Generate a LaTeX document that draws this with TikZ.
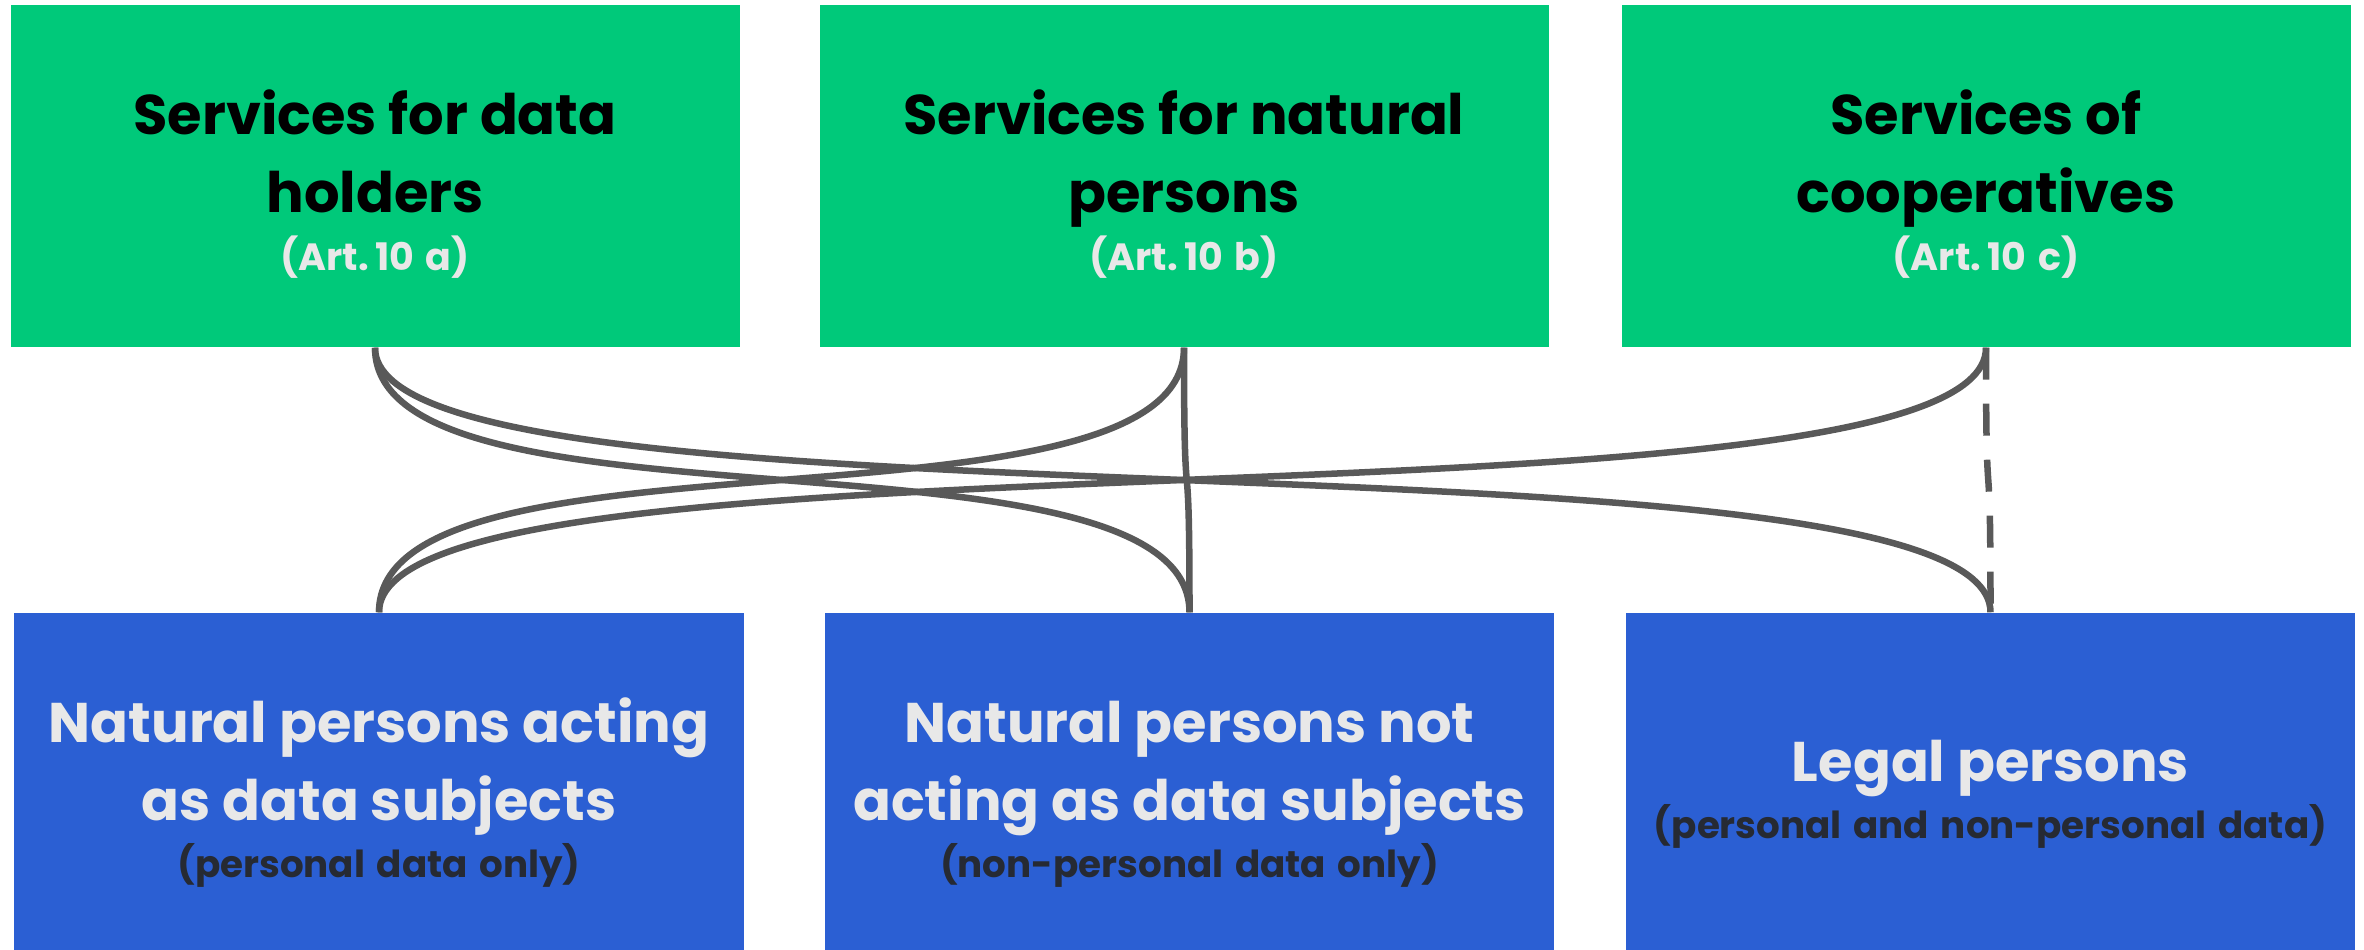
\documentclass[tikz,border=0pt]{standalone}
\usepackage{fontspec}
\setmainfont{Poppins}
\usetikzlibrary{calc}

\definecolor{servgreen}{HTML}{00C97A}
\definecolor{persblue}{HTML}{2B5FD3}
\definecolor{paletext}{HTML}{E8E8E8}
\definecolor{darktext}{HTML}{262A33}
\definecolor{linegrey}{HTML}{595959}

\newcommand{\headline}[1]{{\fontsize{15.9}{22.2}\selectfont\bfseries #1\par}}
\newcommand{\artref}[1]{{\fontsize{10.8}{16.5}\selectfont\bfseries #1\par}}
\newcommand{\datanote}[1]{{\fontsize{10.6}{16.2}\selectfont\bfseries #1\par}}

\tikzset{
  service/.style = {fill=servgreen, text=black, minimum width=7.29cm,
    minimum height=3.42cm, text width=7.2cm, align=center, inner sep=0pt,
    execute at begin node={\rule{0pt}{0.6cm}}},
  person/.style = {fill=persblue, text=paletext, minimum width=7.29cm,
    minimum height=3.37cm, text width=7.2cm, align=center, inner sep=0pt,
    execute at begin node={\rule{0pt}{0.67cm}}},
  link/.style = {draw=linegrey, line width=0.065cm},
  optlink/.style = {link, dash pattern=on 0.32cm off 0.24cm}
}

\begin{document}
\begin{tikzpicture}
  \useasboundingbox (0,0) rectangle (23.64,-9.5);

  % services (top row)
  \node[service] (g1) at (3.75,-1.76)
    {\headline{Services for data\\holders}\artref{\color{paletext}(Art.\,10 a)}};
  \node[service] (g2) at (11.84,-1.76)
    {\headline{Services for natural\\persons}\artref{\color{paletext}(Art.\,10 b)}};
  \node[service] (g3) at (19.86,-1.76)
    {\headline{Services of\\cooperatives}\artref{\color{paletext}(Art.\,10 c)}};

  % persons (bottom row)
  \node[person] (b1) at (3.79,-7.815)
    {\headline{Natural persons acting\\as data subjects}\datanote{\color{darktext}(personal data only)}};
  \node[person] (b2) at (11.895,-7.815)
    {\headline{Natural persons not\\acting as data subjects}\datanote{\color{darktext}(non-personal data only)}};
  \node[person] (b3) at (19.905,-7.815)
    {\headline{Legal persons}\datanote{\color{darktext}(personal and non-personal data)}};

  % control heights of the curved links
  \coordinate (topctrl) at (0,-5.47);
  \coordinate (botctrl) at (0,-4.13);

  \draw[link] (g1.south) .. controls (g1.south |- topctrl) and (b2.north |- botctrl) .. (b2.north);
  \draw[link] (g1.south) .. controls (g1.south |- topctrl) and (b3.north |- botctrl) .. (b3.north);
  \draw[link] (g2.south) .. controls (g2.south |- topctrl) and (b1.north |- botctrl) .. (b1.north);
  \draw[link] (g2.south) .. controls (g2.south |- topctrl) and (b2.north |- botctrl) .. (b2.north);
  \draw[link] (g3.south) .. controls (g3.south |- topctrl) and (b1.north |- botctrl) .. (b1.north);
  \draw[optlink] (g3.south) .. controls (g3.south |- topctrl) and (b3.north |- botctrl) .. (b3.north);
\end{tikzpicture}
\end{document}
